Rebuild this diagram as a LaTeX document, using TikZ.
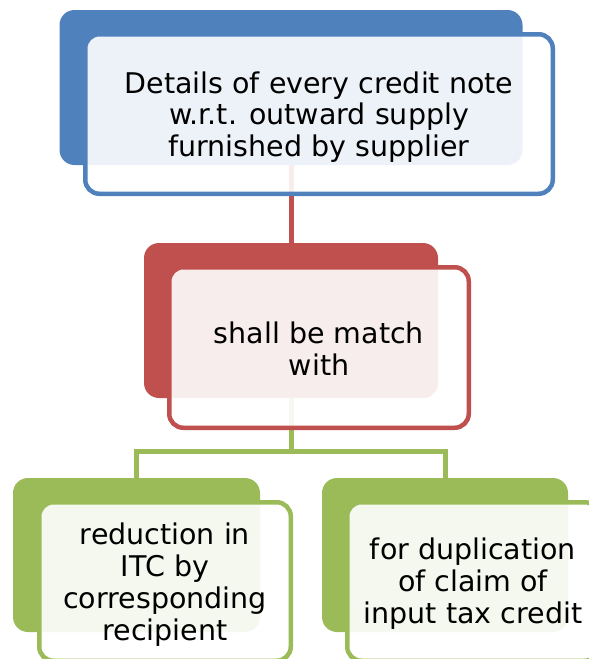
\documentclass[tikz,border=0pt]{standalone}
\usepackage{fontspec}
\setmainfont{DejaVu Sans}
\definecolor{cblue}{RGB}{79,129,189}
\definecolor{cred}{RGB}{192,80,77}
\definecolor{cgreen}{RGB}{155,187,89}
\tikzset{
  backbox/.style={rectangle, rounded corners=15pt, inner sep=0pt, fill=#1, draw=none},
  frontbox/.style={rectangle, rounded corners=14pt, inner sep=0pt, draw=#1,
    line width=4.5pt, fill=white, fill opacity=0.9},
  boxtext/.style={inner sep=0pt, align=center, text=black,
    font=\fontsize{28.5}{31.8}\selectfont},
  link/.style={line width=5pt, draw=#1}
}
\begin{document}
\begin{tikzpicture}[x=1pt, y=-1pt]
  \useasboundingbox (0,0) rectangle (589,659);
  \clip (0,0) rectangle (589,659);

  % coloured back panels
  \node[backbox=cblue, minimum width=463pt, minimum height=155pt] (topback) at (291,87.5) {};
  \node[backbox=cred, minimum width=294pt, minimum height=155pt] (midback) at (291,320.5) {};
  \node[backbox=cgreen, minimum width=247pt, minimum height=154pt] (leftback) at (136.5,555) {};
  \node[backbox=cgreen, minimum width=246pt, minimum height=154pt] (rightback) at (445,555) {};

  % connectors
  \coordinate (bus) at (291,451);
  \draw[link=cred] (topback.south) -- (midback.north);
  \draw[link=cgreen] (midback.south) -- (bus);
  \draw[link=cgreen] (leftback.north) |- (bus) -| (rightback.north);

  % translucent front panels
  \node[frontbox=cblue, minimum width=467.5pt, minimum height=159.5pt] (top) at (319,114) {};
  \node[frontbox=cred, minimum width=299.5pt, minimum height=160.5pt] (mid) at (319,347.5) {};
  \node[frontbox=cgreen, minimum width=251.5pt, minimum height=158.5pt] (left) at (165,581.5) {};
  \node[frontbox=cgreen, minimum width=251.5pt, minimum height=158.5pt] (right) at (473,581.5) {};

  % panel texts
  \node[boxtext] (toptext) at ([yshift=-3pt]top.center)
    {Details of every credit note\\w.r.t. outward supply\\furnished by supplier};
  \node[boxtext] (midtext) at ([yshift=-1pt]mid.center)
    {shall be match\\with};
  \node[boxtext] (lefttext) at ([yshift=-3pt]left.center)
    {reduction in\\ITC by\\corresponding\\recipient};
  \node[boxtext] (righttext) at ([yshift=-2pt]right.center)
    {for duplication\\of claim of\\input tax credit};
\end{tikzpicture}
\end{document}
